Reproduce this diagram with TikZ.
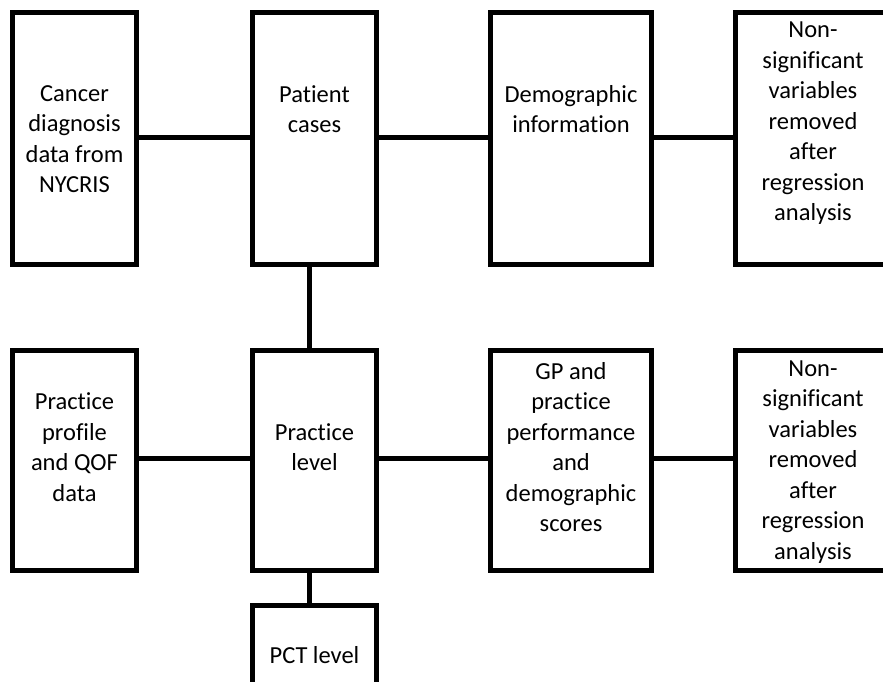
\documentclass[tikz,border=0pt]{standalone}
\usepackage{fontspec}
\setmainfont{Carlito}[Ligatures={NoCommon,NoContextual}]
\tikzset{
  box/.style={draw=black, line width=5pt, line join=miter, fill=white, inner sep=0pt},
  lbl/.style={align=center, inner sep=0pt, font=\fontsize{24.5pt}{30.5pt}\selectfont},
  link/.style={draw=black, line width=5pt}
}
\begin{document}
\begin{tikzpicture}[x=1pt, y=-1pt]
\path[use as bounding box, clip] (0,0) rectangle (883,681);
\fill[white] (0,0) rectangle (883,681);
% boxes
\node[box, minimum width=124pt, minimum height=252pt] (b1) at (74.5,138.5) {};
\node[box, minimum width=124pt, minimum height=252pt] (b2) at (314.5,138.5) {};
\node[box, minimum width=161pt, minimum height=252pt] (b3) at (571,138.5) {};
\node[box, minimum width=155pt, minimum height=252pt] (b4) at (813,138.5) {};
\node[box, minimum width=124pt, minimum height=220pt] (b5) at (74.5,460.5) {};
\node[box, minimum width=124pt, minimum height=220pt] (b6) at (314.5,460.5) {};
\node[box, minimum width=161pt, minimum height=220pt] (b7) at (571,460.5) {};
\node[box, minimum width=155pt, minimum height=220pt] (b8) at (813,460.5) {};
\node[box, minimum width=124pt, minimum height=114.5pt] (b9) at (314.5,662.75) {};
% texts
\node[lbl] (t1) at (74.5,139) {Cancer\\diagnosis\\data from\\NYCRIS};
\node[lbl] (t2) at (314.5,109) {Patient\\cases};
\node[lbl] (t3) at (571,109) {Demographic\\information};
\node[lbl] (t4) at (813,123.5) {Non-\\significant\\variables\\removed\\after\\regression\\analysis};
\node[lbl] (t5) at (74.5,447) {Practice\\profile\\and QOF\\data};
\node[lbl] (t6) at (314.5,447) {Practice\\level};
\node[lbl] (t7) at (571,447) {GP and\\practice\\performance\\and\\demographic\\scores};
\node[lbl] (t8) at (813,462) {Non-\\significant\\variables\\removed\\after\\regression\\analysis};
\node[lbl] (t9) at (314.5,655) {PCT level};
% connectors
\draw[link] ([yshift=1.5pt]b1.east) -- ([yshift=1.5pt]b2.west);
\draw[link] ([yshift=1.5pt]b2.east) -- ([yshift=1.5pt]b3.west);
\draw[link] ([yshift=1.5pt]b3.east) -- ([yshift=1.5pt]b4.west);
\draw[link] ([yshift=2.5pt]b5.east) -- ([yshift=2.5pt]b6.west);
\draw[link] ([yshift=2.5pt]b6.east) -- ([yshift=2.5pt]b7.west);
\draw[link] ([yshift=2.5pt]b7.east) -- ([yshift=2.5pt]b8.west);
\draw[link] ([xshift=-5.5pt]b2.south) -- ([xshift=-5.5pt]b6.north);
\draw[link] ([xshift=-5.5pt]b6.south) -- ([xshift=-5.5pt]b9.north);
\end{tikzpicture}
\end{document}
